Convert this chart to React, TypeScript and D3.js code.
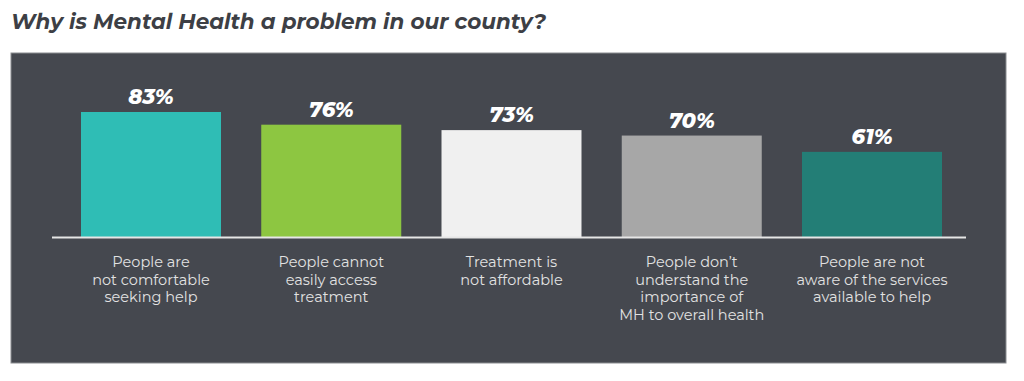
import React from "react";
import * as d3 from "d3";

const categories = [
  ["People are", "not comfortable", "seeking help"],
  ["People cannot", "easily access", "treatment"],
  ["Treatment is", "not affordable"],
  ["People don\u2019t", "understand the", "importance of", "MH to overall health"],
  ["People are not", "aware of the services", "available to help"],
];
const values = [83, 76, 73, 70, 61];
const valueLabels = ["83%", "76%", "73%", "70%", "61%"];
const colors = ["#2fbdb5", "#8dc641", "#f0f0f0", "#a7a7a7", "#237e76"];
const title = "Why is Mental Health a problem in our county?";

const W = 1024;
const H = 381;

export default function App() {
  const x = d3
    .scaleBand<number>()
    .domain(d3.range(values.length))
    .range([81, 942])
    .paddingInner(0.2233)
    .paddingOuter(0);
  const y = d3.scaleLinear().domain([14, 83]).range([237, 112]);
  const font = "Montserrat, 'Open Sans', 'Noto Sans', sans-serif";

  return (
    <svg
      width={W}
      height={H}
      style={{ position: "absolute", left: 0, top: 0, background: "#fff" }}
    >
      <text
        x={11}
        y={29}
        fontFamily={font}
        fontWeight={700}
        fontStyle="italic"
        fontSize={22}
        fill="#3d3f45"
        textLength={535}
        lengthAdjust="spacingAndGlyphs"
      >
        {title}
      </text>
      <rect x={11} y={53} width={995} height={310} fill="#45484f" stroke="#8a8c90" strokeWidth={1} />
      {values.map((v, i) => {
        const bx = x(i)!;
        const bw = x.bandwidth();
        const cx = bx + bw / 2;
        return (
          <g key={i}>
            <rect x={bx} y={y(v)} width={bw} height={y(14) - y(v)} fill={colors[i]} />
            <text
              x={cx}
              y={y(v) - 8}
              textAnchor="middle"
              fontFamily={font}
              fontWeight={800}
              fontStyle="italic"
              fontSize={21}
              fill="#ffffff"
            >
              {valueLabels[i]}
            </text>
            {categories[i].map((line, j) => (
              <text
                key={j}
                x={cx}
                y={267 + j * 17.5}
                textAnchor="middle"
                fontFamily={font}
                fontSize={14.5}
                fill="#e2e2e2"
              >
                {line}
              </text>
            ))}
          </g>
        );
      })}
      <line x1={52} x2={966} y1={237.5} y2={237.5} stroke="#e6e6e6" strokeWidth={2} />
    </svg>
  );
}
